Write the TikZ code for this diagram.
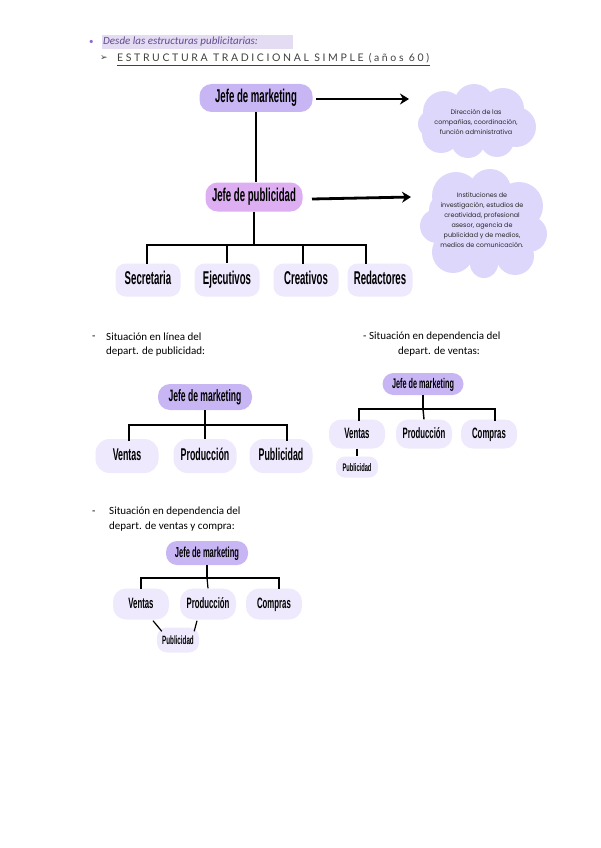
\documentclass[tikz,border=0pt]{standalone}
\usepackage{fontspec}
\setmainfont{Carlito}
\newfontfamily\cond[FakeStretch=0.52]{Liberation Sans}
\newfontfamily\cloudf{Poppins}
\newfontfamily\headf[LetterSpace=25]{Lato}
\newfontfamily\dingf{DejaVu Sans}
\usetikzlibrary{arrows.meta}
\definecolor{lav}{HTML}{C8B6F4}
\definecolor{pinklav}{HTML}{DDAEF1}
\definecolor{pale}{HTML}{EEE9FC}
\definecolor{cloudc}{HTML}{DCD7FB}
\definecolor{hilite}{HTML}{E3DCF3}
\definecolor{bulletc}{HTML}{8E6BC9}
\definecolor{headc}{HTML}{404040}
\newcommand{\cf}[1]{\cond\bfseries\fontsize{#1}{#1}\selectfont}
\tikzset{
  box/.style={rounded corners=#1, inner sep=0pt, align=center, text height=0.88em, text depth=0em},
  box/.default=10pt,
  tree/.style={line width=1.8pt, black},
  bigarrow/.style={line width=2.8pt, -{Stealth[length=9pt,width=11pt]}},
  cloudtext/.style={inner sep=0pt, align=center, text=black!85, font=\cloudf\fontsize{6.4}{9.9}\selectfont},
  lbl/.style={anchor=west, inner sep=0pt, font=\fontsize{11}{13}\selectfont}
}
\begin{document}
\begin{tikzpicture}[x=1pt,y=-1pt]
\useasboundingbox (0,0) rectangle (600,848);
% header
\fill[hilite] (102,35) rectangle (293,49);
\node[anchor=west, inner sep=0pt, text=bulletc, font=\fontsize{9}{10}\selectfont] (bul) at (89,42) {\textbullet};
\node[anchor=west, inner sep=0pt, text=bulletc!70!black, font=\fontsize{11}{13}\selectfont\itshape] (desde) at (103,42) {Desde las estructuras publicitarias:};
\node[anchor=west, inner sep=0pt, text=headc, font=\dingf\fontsize{9}{10}\selectfont] (arr) at (100,58) {➢};
\node[anchor=west, inner sep=0pt, text=headc, font=\headf\fontsize{10.5}{12}\selectfont] (head) at (117,58) {ESTRUCTURA TRADICIONAL SIMPLE (años 60)};
\draw[headc, line width=0.8pt] (117,65) -- (430,65);

% clouds
\fill[cloudc] (476,121) ellipse (45pt and 24pt);
\foreach \cx/\cy/\r in {444/112/21, 474/104/20, 503/109/21, 516/127/20, 497/140/17, 468/141/17, 441/134/19, 432/124/14}{
  \fill[cloudc] (\cx,\cy) circle (\r pt);
}
\fill[cloudc] (482,222) ellipse (48pt and 40pt);
\foreach \cx/\cy/\r in {456/196/24, 490/190/21, 519/206/24, 529/234/18, 515/256/19, 484/264/14, 453/252/21, 437/226/17, 446/210/17}{
  \fill[cloudc] (\cx,\cy) circle (\r pt);
}
\node[cloudtext] (c1) at (476,122) {Dirección de las\\compañías, coordinación,\\función administrativa};
\node[cloudtext] (c2) at (482,220) {Instituciones de\\investigación, estudios de\\creatividad, profesional\\asesor, agencia de\\publicidad y de medios,\\medios de comunicación.};

% top diagram
\node[box=12pt, fill=lav, minimum width=113pt, minimum height=28pt, font=\cf{18.5}] (jm) at (256,98) {Jefe de marketing};
\node[box=12pt, fill=pinklav, minimum width=97pt, minimum height=29pt, font=\cf{18.5}] (jp) at (254,197) {Jefe de publicidad};
\coordinate (a1s) at (316,99);
\coordinate (a1e) at (409,99);
\coordinate (a2s) at (312,199);
\coordinate (a2e) at (411,197);
\draw[bigarrow] (a1s) -- (a1e);
\draw[bigarrow] (a2s) -- (a2e);
\draw[tree] (jm.south) -- (jm.south |- jp.north);

\foreach \n/\x/\t in {sec/148/Secretaria, eje/227/Ejecutivos, cre/306/Creativos, red/380/Redactores}{
  \node[box=10pt, fill=pale, minimum width=65pt, minimum height=33pt, font=\cf{18.5}] (\n) at (\x,280) {\t};
}
\draw[tree] (jp.south) -- (254,245);
\draw[tree] (147,245) -- (366,245);
\draw[tree] (147,244.1) -- (147,264);
\draw[tree] (227,245) -- (eje.north);
\draw[tree] (303,245) -- (303,264);
\draw[tree] (366,244.1) -- (366,264);

% section 2 left
\node[lbl] (d1) at (92,338) {-};
\node[lbl] (s1a) at (106,337) {Situación en línea del};
\node[lbl] (s1b) at (106,352) {depart. de publicidad:};
\node[box=12pt, fill=lav, minimum width=94pt, minimum height=26pt, font=\cf{16.5}] (jm2) at (205,397) {Jefe de marketing};
\foreach \n/\x/\t in {ve2/127/Ventas, pr2/205/Producción, pu2/281/Publicidad}{
  \node[box=14pt, fill=pale, minimum width=63pt, minimum height=34pt, font=\cf{17}] (\n) at (\x,456) {\t};
}
\draw[tree] (jm2.south) -- (205,425);
\draw[tree] (129,425) -- (287,425);
\draw[tree] (129,424.1) -- (129,441);
\draw[tree] (205,425) -- (pr2.north);
\draw[tree] (287,424.1) -- (287,441);

% section 2 right
\node[lbl] (s2a) at (363,337) {- Situación en dependencia del};
\node[lbl] (s2b) at (398,352) {depart. de ventas:};
\node[box=11pt, fill=lav, minimum width=81pt, minimum height=22pt, font=\cf{14}] (jm3) at (423,384) {Jefe de marketing};
\foreach \n/\x/\t in {ve3/357/Ventas, pr3/424/Producción, co3/489/Compras}{
  \node[box=12pt, fill=pale, minimum width=56pt, minimum height=29pt, font=\cf{15}] (\n) at (\x,434) {\t};
}
\node[box=9pt, fill=pale, minimum width=42pt, minimum height=21pt, font=\cf{11}] (pu3) at (357,467) {Publicidad};
\draw[tree, line width=1.4pt] (jm3.south) -- (423,409);
\draw[tree, line width=1.4pt] (359,409) -- (495,409);
\draw[tree, line width=1.4pt] (359,408.3) -- (359,421);
\draw[tree, line width=1.4pt] (423,409) -- (pr3.north);
\draw[tree, line width=1.4pt] (495,408.3) -- (495,421);
\draw[tree, line width=1.4pt] (ve3.south) -- (pu3.north);

% section 3
\node[lbl] (d3) at (92,513) {-};
\node[lbl] (s3a) at (109,512) {Situación en dependencia del};
\node[lbl] (s3b) at (109,527) {depart. de ventas y compra:};
\node[box=11pt, fill=lav, minimum width=82pt, minimum height=24pt, font=\cf{14.5}] (jm4) at (207,553) {Jefe de marketing};
\foreach \n/\x/\t in {ve4/141/Ventas, pr4/208/Producción, co4/274/Compras}{
  \node[box=13pt, fill=pale, minimum width=56pt, minimum height=31pt, font=\cf{15}] (\n) at (\x,604) {\t};
}
\node[box=10pt, fill=pale, minimum width=42pt, minimum height=25pt, font=\cf{12}] (pu4) at (178,640) {Publicidad};
\draw[tree, line width=1.2pt] (jm4.south) -- (207,578);
\draw[tree, line width=1.2pt] (141,578) -- (279,578);
\draw[tree, line width=1.2pt] (141,577.4) -- (141,589);
\draw[tree, line width=1.2pt] (207,578) -- (pr4.north);
\draw[tree, line width=1.2pt] (279,577.4) -- (279,589);
\draw[tree, line width=1.2pt] ([xshift=12pt,yshift=-1pt]ve4.south) -- ([xshift=5pt,yshift=-4pt]pu4.north west);
\draw[tree, line width=1.2pt] ([xshift=-11pt,yshift=-1pt]pr4.south) -- ([xshift=-5pt,yshift=-4pt]pu4.north east);
\end{tikzpicture}
\end{document}
